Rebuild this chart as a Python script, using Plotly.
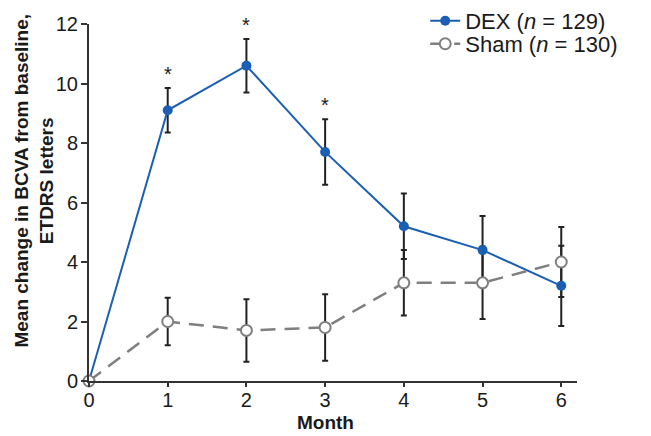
import plotly.graph_objects as go

months = [0, 1, 2, 3, 4, 5, 6]
dex = [0, 9.1, 10.6, 7.7, 5.2, 4.4, 3.2]
dex_err = [0, 0.75, 0.9, 1.1, 1.1, 1.15, 1.35]
sham = [0, 2.0, 1.7, 1.8, 3.3, 3.3, 4.0]
sham_err = [0, 0.8, 1.05, 1.12, 1.1, 1.22, 1.18]
significant = [False, True, True, True, False, False, False]
x_ticks = [0, 1, 2, 3, 4, 5, 6]
y_ticks = [0, 2, 4, 6, 8, 10, 12]

FONT = "Liberation Sans, Arial, sans-serif"
BLUE = "#1b5fb5"
GRAY = "#7f7f7f"
TXT = "#1a1a1a"

fig = go.Figure()

def err_trace(y, err):
    return go.Scatter(
        x=months, y=y, mode="markers",
        marker=dict(size=1, opacity=0),
        error_y=dict(type="data", array=err, visible=True,
                     color="#222222", thickness=2, width=3),
        showlegend=False, hoverinfo="skip", cliponaxis=False)

fig.add_trace(err_trace(sham, sham_err))
fig.add_trace(err_trace(dex, dex_err))

fig.add_trace(go.Scatter(
    x=months, y=dex, mode="lines+markers", name="DEX (<i>n</i> = 129)",
    line=dict(color=BLUE, width=2),
    marker=dict(color=BLUE, size=10, line=dict(width=0)),
    cliponaxis=False, legend="legend"))

fig.add_trace(go.Scatter(
    x=months, y=sham, mode="lines+markers", name="Sham (<i>n</i> = 130)",
    line=dict(color=GRAY, width=2.5, dash="15px,9px"),
    marker=dict(color="white", size=11, line=dict(color=GRAY, width=2)),
    cliponaxis=False, legend="legend2"))

annotations = []
for m, y, e, s in zip(months, dex, dex_err, significant):
    if s:
        annotations.append(dict(
            x=m, y=y + e, xref="x", yref="y", text="*", showarrow=False,
            yanchor="bottom", yshift=1,
            font=dict(family=FONT, size=20, color=TXT)))

annotations.append(dict(
    x=-0.113, y=0.561, xref="paper", yref="paper", textangle=-90,
    text="<b>Mean change in BCVA from baseline,<br>ETDRS letters</b>",
    showarrow=False, xanchor="center", yanchor="middle", align="center",
    font=dict(family=FONT, size=19, color=TXT)))

annotations.append(dict(
    x=3, y=-0.115, xref="x", yref="paper", text="<b>Month</b>",
    showarrow=False, xanchor="center", yanchor="middle",
    font=dict(family=FONT, size=19, color=TXT)))

leg_common = dict(xanchor="left", yanchor="middle",
                  bgcolor="rgba(0,0,0,0)", font=dict(size=22, color=TXT),
                  itemwidth=30, borderwidth=0)

fig.update_layout(
    width=651, height=436,
    margin=dict(l=81, r=82, t=16, b=62.5, autoexpand=False),
    paper_bgcolor="white", plot_bgcolor="white",
    font=dict(family=FONT, size=20, color=TXT),
    showlegend=True,
    legend=dict(x=0.689, y=(381.5 - 21) / 357.5, **leg_common),
    legend2=dict(x=0.689, y=(381.5 - 44) / 357.5, **leg_common),
    annotations=annotations,
)

fig.update_xaxes(
    range=[0, 6.2], tickvals=x_ticks, ticktext=[str(v) for v in x_ticks],
    showline=True, linecolor="#333333", linewidth=2,
    ticks="outside", ticklen=4, tickwidth=1.5, tickcolor="#333333",
    ticklabelstandoff=-4,
    showgrid=False, zeroline=False, automargin=False,
    tickfont=dict(family=FONT, size=20, color=TXT))

fig.update_yaxes(
    range=[0, 12], tickvals=y_ticks, ticktext=[str(v) for v in y_ticks],
    showline=True, linecolor="#333333", linewidth=2,
    ticks="outside", ticklen=6, tickwidth=1.5, tickcolor="#333333",
    ticklabelstandoff=-1,
    showgrid=False, zeroline=False, automargin=False,
    tickfont=dict(family=FONT, size=20, color=TXT))

fig.write_html("out.html")
